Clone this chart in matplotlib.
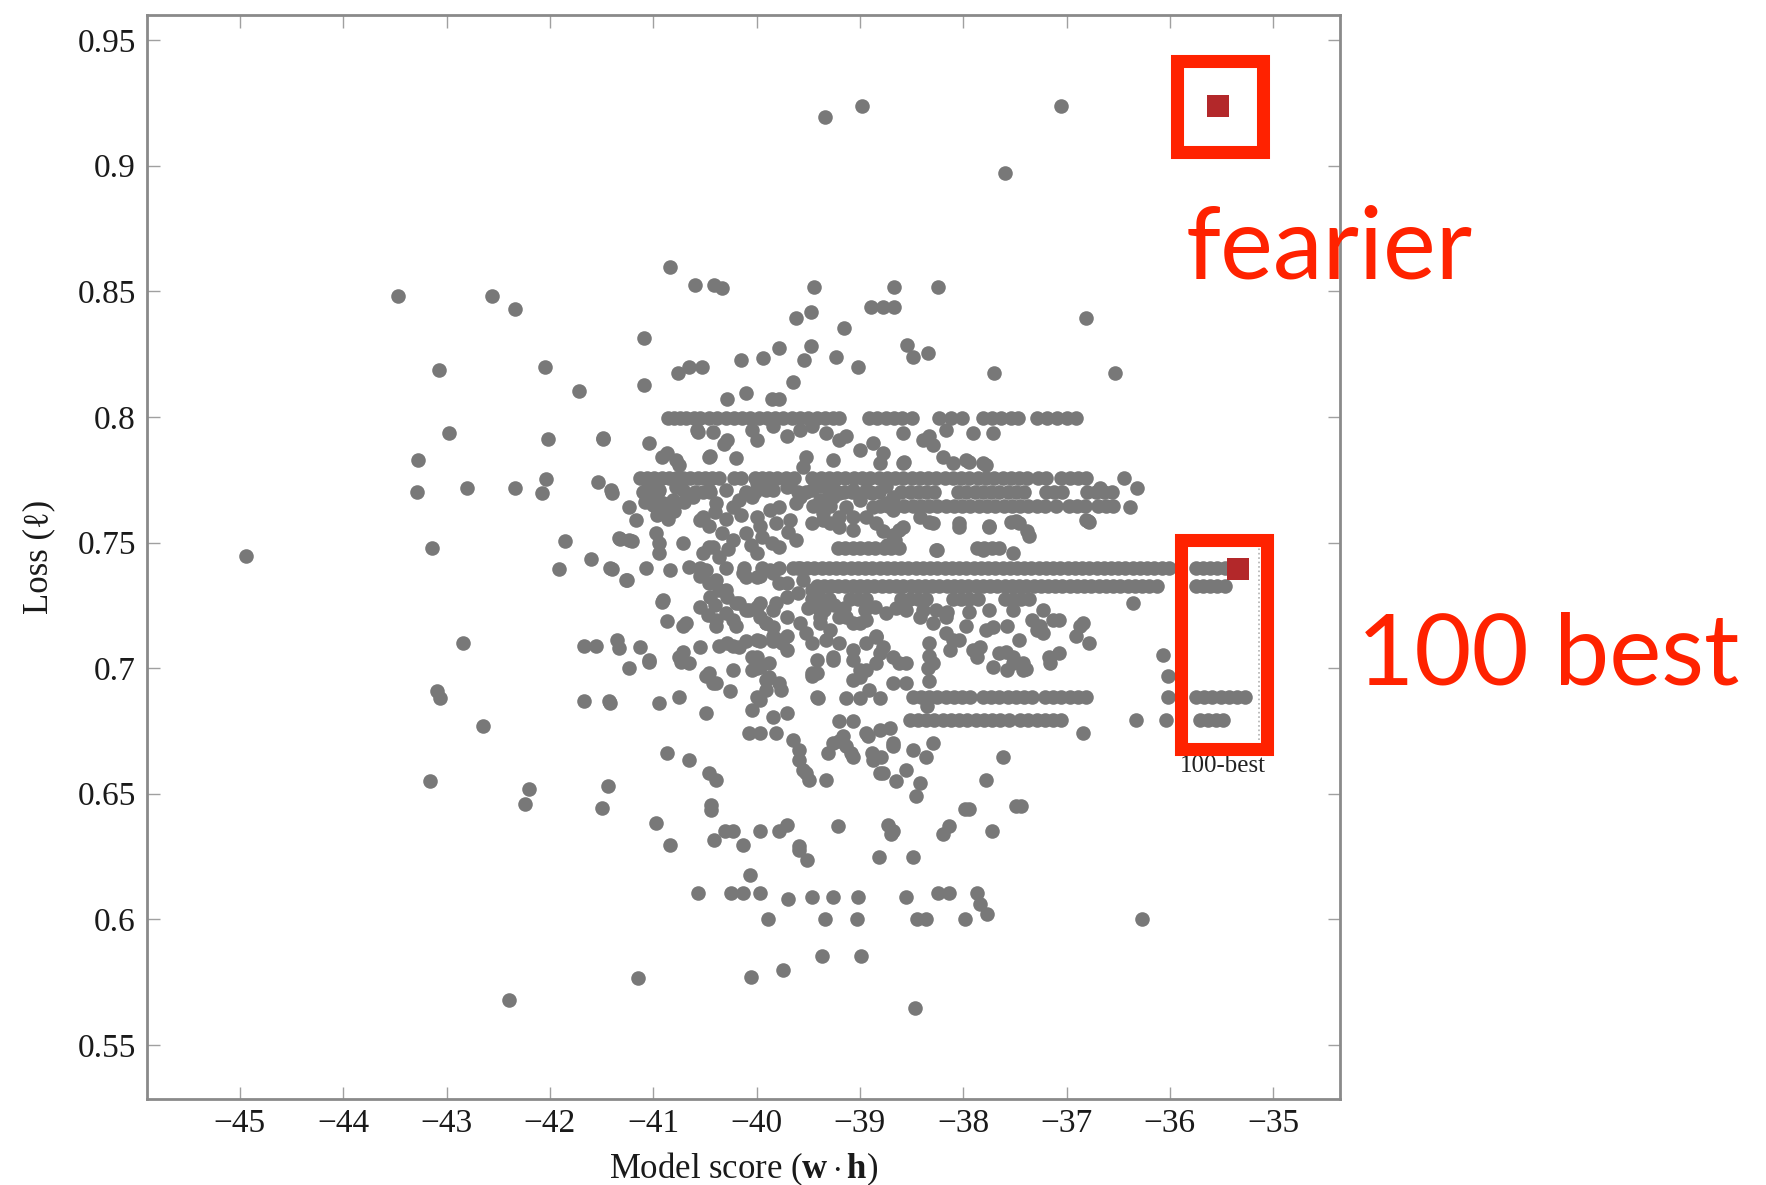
import matplotlib
matplotlib.use("Agg")
import matplotlib.pyplot as plt
from matplotlib.patches import Rectangle

plt.rcParams['font.family'] = ['Liberation Serif', 'DejaVu Serif']
plt.rcParams['mathtext.fontset'] = 'custom'
plt.rcParams['mathtext.rm'] = 'Liberation Serif'
plt.rcParams['mathtext.bf'] = 'Liberation Serif:bold'
plt.rcParams['mathtext.it'] = 'Liberation Serif:italic'

# ---------------- data ----------------
x_ticks = [-45, -44, -43, -42, -41, -40, -39, -38, -37, -36, -35]
x_tick_labels = ['\u221245', '\u221244', '\u221243', '\u221242', '\u221241', '\u221240',
                 '\u221239', '\u221238', '\u221237', '\u221236', '\u221235']
y_ticks = [0.55, 0.6, 0.65, 0.7, 0.75, 0.8, 0.85, 0.9, 0.95]
y_tick_labels = ['0.55', '0.6', '0.65', '0.7', '0.75', '0.8', '0.85', '0.9', '0.95']

# hypotheses sharing the same loss value (horizontal streaks): model scores
row_080 = [-40.86, -40.80, -40.74, -40.68, -40.61, -40.55, -40.46, -40.38, -40.30, -40.22,
           -40.14, -40.06, -39.98, -39.90, -39.82, -39.74, -39.66, -39.58, -39.50, -39.42,
           -39.34, -39.26, -39.20, -38.91, -38.83, -38.75, -38.67, -38.59, -38.50, -38.23,
           -38.12, -38.01, -37.81, -37.72, -37.63, -37.54, -37.47, -37.29, -37.19, -37.09,
           -37.00, -36.91]
row_0775 = [-41.13, -41.06, -40.99, -40.92, -40.85, -40.78, -40.71, -40.64, -40.57, -40.50,
            -40.43, -40.36, -40.22, -40.15, -40.02, -39.95, -39.88, -39.80, -39.72, -39.64,
            -39.46, -39.38, -39.30, -39.22, -39.14, -39.06, -38.98, -38.90, -38.82, -38.74,
            -38.66, -38.58, -38.50, -38.42, -38.34, -38.26, -38.18, -38.10, -38.02, -37.94,
            -37.86, -37.78, -37.70, -37.62, -37.54, -37.46, -37.38, -37.28, -37.20, -37.05,
            -36.97, -36.89, -36.81]
row_077 = [-41.10, -41.02, -40.95, -40.60, -40.52, -40.45, -40.10, -40.02, -39.60, -39.52,
           -39.30, -39.22, -39.15, -39.08, -38.90, -38.82, -38.60, -38.52, -38.44, -38.36,
           -38.28, -38.05, -37.97, -37.89, -37.81, -37.73, -37.65, -37.57, -37.49, -37.41,
           -37.20, -37.12, -37.04, -36.80, -36.72, -36.64, -36.56]
row_0765 = [-39.45, -39.37, -39.29, -38.81, -38.73, -38.65, -38.57, -38.49, -38.41, -38.33,
            -38.25, -38.17, -38.09, -38.01, -37.93, -37.85, -37.77, -37.69, -37.61, -37.53,
            -37.45, -37.37, -37.29, -37.21, -37.10, -36.98, -36.90, -36.82, -36.70, -36.62,
            -36.55]
row_0748 = [-39.21, -39.14, -39.07, -39.00, -38.92, -38.85, -38.77, -38.70, -38.62, -37.87,
            -37.80, -37.72, -37.65]
row_074 = [-40.55, -40.30, -40.12, -39.95, -39.78, -39.65, -39.58, -39.51, -39.44, -39.37,
           -39.30, -39.23, -39.16, -39.09, -39.02, -38.95, -38.88, -38.81, -38.74, -38.67,
           -38.60, -38.53, -38.46, -38.39, -38.32, -38.25, -38.18, -38.11, -38.04, -37.97,
           -37.90, -37.83, -37.76, -37.69, -37.62, -37.55, -37.48, -37.41, -37.34, -37.27,
           -37.20, -37.13, -37.06, -36.99, -36.92, -36.85, -36.78, -36.71, -36.64, -36.57,
           -36.50, -36.43, -36.36, -36.29, -36.22, -36.15, -36.08, -36.01, -35.75, -35.68,
           -35.61, -35.54, -35.47]
row_0733 = [-39.42, -39.35, -39.28, -39.21, -39.14, -39.07, -39.00, -38.93, -38.86, -38.79,
            -38.72, -38.65, -38.58, -38.51, -38.44, -38.37, -38.30, -38.23, -38.16, -38.09,
            -38.02, -37.95, -37.88, -37.81, -37.74, -37.67, -37.60, -37.53, -37.46, -37.39,
            -37.32, -37.25, -37.18, -37.11, -37.04, -36.97, -36.90, -36.83, -36.76, -36.69,
            -36.62, -36.55, -36.48, -36.41, -36.34, -36.27, -36.20, -36.12, -35.75, -35.68,
            -35.61, -35.54, -35.47]
row_0728 = [-39.46, -39.38, -39.30, -39.10, -39.02, -38.94, -38.60, -38.52, -38.44, -38.36,
            -38.10, -38.02, -37.94, -37.86, -37.60, -37.52, -37.44, -37.36]
row_0689 = [-38.49, -38.41, -38.33, -38.25, -38.17, -38.09, -38.01, -37.93, -37.81, -37.73,
            -37.65, -37.57, -37.49, -37.41, -37.33, -37.21, -37.13, -37.05, -36.97, -36.89,
            -36.81, -36.02, -35.75, -35.67, -35.59, -35.51, -35.43, -35.35, -35.27]
row_068 = [-38.52, -38.44, -38.36, -38.28, -38.20, -38.12, -38.04, -37.96, -37.88, -37.80,
           -37.72, -37.64, -37.56, -37.45, -37.37, -37.29, -37.21, -37.13, -37.05, -36.33,
           -36.04, -35.71, -35.63, -35.55, -35.49]
row_scores = [row_080, row_0775, row_077, row_0765, row_0748, row_074, row_0733, row_0728,
              row_0689, row_068]
row_losses = [0.7995, 0.7755, 0.7700, 0.7645, 0.7478, 0.7400, 0.7325, 0.7275, 0.6887, 0.6795]

# other hypotheses: (model score, loss)
pts_outer = [(-44.94, 0.7445), (-43.47, 0.848), (-43.28, 0.783), (-43.29, 0.770), (-43.14, 0.7478),
             (-43.07, 0.8185), (-42.98, 0.7935), (-42.80, 0.7715), (-42.84, 0.710), (-43.09, 0.691),
             (-43.06, 0.688), (-43.16, 0.655), (-42.65, 0.677), (-42.56, 0.848), (-42.34, 0.843),
             (-42.34, 0.7715), (-42.05, 0.8197), (-42.02, 0.7913), (-42.04, 0.7753), (-42.08, 0.7699),
             (-42.20, 0.652), (-42.24, 0.646), (-42.40, 0.568), (-41.85, 0.7504), (-41.91, 0.7393),
             (-41.72, 0.8103), (-41.60, 0.7433), (-41.49, 0.7913), (-41.53, 0.7740), (-41.40, 0.7699),
             (-41.40, 0.7395), (-41.32, 0.7515), (-41.21, 0.7504), (-41.25, 0.7352), (-41.67, 0.709),
             (-41.55, 0.709), (-41.35, 0.7113), (-41.33, 0.708), (-41.67, 0.6868), (-41.43, 0.6868),
             (-41.44, 0.6529), (-41.50, 0.6442), (-41.15, 0.5768)]
pts_top = [(-39.34, 0.9195), (-38.98, 0.9239), (-37.05, 0.9239), (-37.60, 0.8970), (-40.84, 0.8598),
           (-40.60, 0.8525), (-40.41, 0.8525), (-40.33, 0.8512), (-39.44, 0.8516), (-38.67, 0.8516),
           (-38.24, 0.8516), (-38.89, 0.8439), (-38.78, 0.8439), (-38.67, 0.8439), (-39.47, 0.8419),
           (-39.62, 0.8393), (-39.15, 0.8353), (-36.81, 0.8393), (-41.09, 0.8316), (-41.09, 0.8127),
           (-39.47, 0.8284), (-39.78, 0.8273), (-39.94, 0.8236), (-40.15, 0.8227), (-40.76, 0.8174),
           (-40.65, 0.8200), (-40.53, 0.8200), (-39.54, 0.8227), (-39.23, 0.8237), (-39.02, 0.8198),
           (-38.54, 0.8286), (-38.49, 0.8240), (-38.34, 0.8253), (-37.70, 0.8174), (-36.53, 0.8174),
           (-39.65, 0.8140), (-40.10, 0.8094), (-40.29, 0.8070), (-39.85, 0.8070), (-39.78, 0.8070)]
pts_upper = [(-41.49, 0.7915), (-41.04, 0.7895), (-40.87, 0.7856), (-40.78, 0.7829), (-40.46, 0.7842),
             (-40.20, 0.7836), (-40.57, 0.7938), (-40.42, 0.7938), (-40.32, 0.7893), (-40.45, 0.7844),
             (-40.92, 0.7839), (-40.75, 0.7809), (-40.58, 0.7949), (-40.29, 0.7909), (-40.04, 0.7949),
             (-40.00, 0.7909), (-39.84, 0.7962), (-39.71, 0.7922), (-39.58, 0.7949), (-39.46, 0.7962),
             (-39.33, 0.7935), (-39.20, 0.7909), (-39.13, 0.7922), (-39.00, 0.7869), (-38.87, 0.7895),
             (-38.78, 0.7856), (-38.81, 0.7816), (-39.52, 0.7842), (-39.55, 0.7802), (-39.26, 0.7829),
             (-38.58, 0.7816), (-38.33, 0.7922), (-38.17, 0.7949), (-37.91, 0.7935), (-37.71, 0.7935),
             (-38.20, 0.7842), (-37.97, 0.7829), (-37.81, 0.7816), (-38.58, 0.7934), (-38.39, 0.7908),
             (-38.29, 0.7888), (-38.57, 0.7822), (-38.10, 0.7815), (-37.94, 0.7822), (-37.78, 0.7808)]
pts_mid = [(-41.41, 0.7710), (-41.23, 0.7643), (-41.17, 0.7590), (-41.33, 0.7517), (-41.23, 0.7511),
           (-40.97, 0.7537), (-40.94, 0.7497), (-40.94, 0.7458), (-40.71, 0.7497), (-40.55, 0.7590),
           (-40.46, 0.7564), (-40.33, 0.7537), (-40.23, 0.7511), (-40.42, 0.7484), (-40.52, 0.7458),
           (-40.39, 0.7657), (-40.23, 0.7643), (-40.10, 0.7696), (-40.00, 0.7736), (-39.84, 0.7710),
           (-39.68, 0.7723), (-39.78, 0.7643), (-40.00, 0.7603), (-39.87, 0.7630), (-39.58, 0.7683),
           (-40.10, 0.7537), (-39.97, 0.7564), (-39.81, 0.7577), (-39.68, 0.7590), (-39.78, 0.7484),
           (-40.00, 0.7458), (-40.94, 0.7709), (-40.78, 0.7722), (-40.71, 0.7709), (-41.00, 0.7649),
           (-40.91, 0.7656), (-40.81, 0.7669), (-40.52, 0.7603), (-39.46, 0.7576), (-39.36, 0.7589),
           (-39.20, 0.7563), (-39.07, 0.7550), (-39.46, 0.7709), (-39.26, 0.7682), (-39.07, 0.7709),
           (-38.88, 0.7696), (-38.75, 0.7656), (-40.46, 0.7709), (-40.30, 0.7709), (-40.17, 0.7669),
           (-40.04, 0.7682), (-39.91, 0.7709), (-39.71, 0.7722), (-39.62, 0.7656), (-39.39, 0.7723),
           (-39.26, 0.7736), (-39.39, 0.7670), (-39.36, 0.7617), (-39.29, 0.7577), (-39.20, 0.7603),
           (-39.07, 0.7603), (-38.94, 0.7603), (-38.84, 0.7577), (-38.78, 0.7544), (-38.68, 0.7531),
           (-38.62, 0.7550), (-38.68, 0.7630), (-38.68, 0.7683), (-38.75, 0.7723), (-39.00, 0.7670),
           (-39.13, 0.7643), (-38.87, 0.7643), (-39.20, 0.7696), (-38.94, 0.7710), (-38.42, 0.7603),
           (-38.29, 0.7577), (-38.04, 0.7577), (-37.75, 0.7564), (-37.46, 0.7577), (-37.36, 0.7524),
           (-38.26, 0.7471), (-37.52, 0.7458), (-36.81, 0.7590), (-37.54, 0.7583), (-36.78, 0.7583),
           (-36.68, 0.7716), (-36.44, 0.7755), (-36.32, 0.7716), (-36.39, 0.7643), (-38.33, 0.7583),
           (-38.04, 0.7563), (-37.75, 0.7563), (-38.25, 0.7470), (-37.81, 0.7470), (-38.58, 0.7563),
           (-38.66, 0.7510), (-38.74, 0.7490), (-37.38, 0.7544), (-36.79, 0.7584), (-37.49, 0.7584),
           (-41.05, 0.7720), (-40.98, 0.7680), (-40.90, 0.7625), (-40.86, 0.7595), (-40.80, 0.7625),
           (-40.70, 0.7660), (-40.62, 0.7680), (-40.96, 0.7610), (-41.08, 0.7660), (-40.40, 0.7620),
           (-40.30, 0.7595), (-40.15, 0.7610), (-39.95, 0.7520), (-39.85, 0.7500), (-39.70, 0.7540),
           (-39.62, 0.7510), (-40.05, 0.7490), (-40.28, 0.7475), (-40.46, 0.7483), (-40.36, 0.7444)]
pts_low = [(-41.42, 0.7398), (-41.26, 0.7351), (-41.07, 0.7398), (-40.84, 0.7391), (-40.65, 0.7404),
           (-40.55, 0.7365), (-40.46, 0.7338), (-40.36, 0.7312), (-40.29, 0.7285), (-40.20, 0.7258),
           (-40.10, 0.7232), (-39.97, 0.7365), (-39.87, 0.7391), (-39.78, 0.7338), (-39.71, 0.7285),
           (-39.97, 0.7258), (-39.84, 0.7232), (-39.91, 0.7179), (-39.84, 0.7126), (-39.75, 0.7099),
           (-40.91, 0.7272), (-40.87, 0.7186), (-40.71, 0.7166), (-40.39, 0.7166), (-40.20, 0.7166),
           (-40.29, 0.7099), (-40.17, 0.7086), (-40.00, 0.7113), (-39.71, 0.7126), (-40.55, 0.7086),
           (-41.13, 0.7086), (-40.75, 0.7046), (-40.65, 0.7020), (-41.23, 0.7000), (-41.04, 0.7026),
           (-40.49, 0.6967), (-40.42, 0.6940), (-40.04, 0.6993), (-39.91, 0.6953), (-40.23, 0.6993),
           (-40.10, 0.7364), (-40.92, 0.7264), (-40.55, 0.7244), (-40.68, 0.7178), (-40.39, 0.7191),
           (-40.23, 0.7191), (-40.00, 0.7244), (-39.81, 0.7258), (-39.71, 0.7205), (-39.91, 0.7178),
           (-39.42, 0.7258), (-39.39, 0.7205), (-39.29, 0.7152), (-39.20, 0.7099), (-39.07, 0.7073),
           (-38.94, 0.7099), (-38.84, 0.7126), (-39.13, 0.7205), (-39.00, 0.7179), (-38.81, 0.7060),
           (-38.68, 0.7046), (-38.55, 0.7020), (-39.46, 0.7099), (-39.42, 0.7033), (-39.00, 0.6993),
           (-38.84, 0.7020), (-39.07, 0.6953), (-39.26, 0.7033), (-39.42, 0.6980), (-39.46, 0.6967),
           (-38.55, 0.7232), (-38.42, 0.7205), (-38.29, 0.7179), (-38.17, 0.7205), (-38.17, 0.7139),
           (-37.97, 0.7166), (-37.78, 0.7152), (-37.58, 0.7166), (-38.04, 0.7113), (-37.84, 0.7086),
           (-37.65, 0.7060), (-37.46, 0.7113), (-37.39, 0.6996), (-37.26, 0.7166), (-37.13, 0.7192),
           (-36.87, 0.7166), (-36.78, 0.7099), (-38.13, 0.7073), (-38.29, 0.7020), (-37.87, 0.7046),
           (-37.71, 0.7006), (-37.58, 0.6993), (-37.42, 0.7020), (-37.16, 0.7020), (-37.07, 0.7060),
           (-36.36, 0.7258), (-37.23, 0.7231), (-37.07, 0.7191), (-36.84, 0.7178), (-38.39, 0.7231),
           (-38.16, 0.7225), (-37.94, 0.7225), (-37.75, 0.7231), (-37.52, 0.7231), (-36.07, 0.7053),
           (-36.02, 0.6967), (-37.29, 0.7152), (-36.91, 0.7126), (-37.17, 0.7046), (-37.59, 0.7066),
           (-37.52, 0.7020), (-38.33, 0.7100), (-38.33, 0.7050), (-38.34, 0.7000), (-38.33, 0.6950),
           (-38.35, 0.6850), (-41.04, 0.7033), (-40.71, 0.7066), (-40.73, 0.7026), (-40.26, 0.6907),
           (-40.36, 0.7090), (-40.23, 0.7090), (-40.10, 0.7106), (-39.97, 0.7106), (-39.84, 0.7106),
           (-40.00, 0.7046), (-39.88, 0.7020), (-40.00, 0.7000), (-39.89, 0.6960), (-39.76, 0.6914),
           (-40.49, 0.7391), (-40.39, 0.7351), (-40.30, 0.7311), (-40.17, 0.7258), (-40.07, 0.7231),
           (-39.97, 0.7205), (-39.84, 0.7165), (-39.78, 0.7112), (-39.71, 0.7072), (-40.13, 0.7377),
           (-40.00, 0.7364), (-39.84, 0.7377), (-39.71, 0.7337), (-39.46, 0.7311), (-39.42, 0.7245),
           (-39.39, 0.7178), (-39.33, 0.7112), (-39.26, 0.7046), (-39.20, 0.7205), (-39.07, 0.7178),
           (-38.94, 0.7192), (-38.84, 0.7125), (-38.78, 0.7085), (-38.62, 0.7019), (-39.07, 0.7032),
           (-38.94, 0.6992), (-39.00, 0.6966), (-38.26, 0.7231), (-38.10, 0.7112), (-37.71, 0.7165),
           (-37.91, 0.7072), (-37.52, 0.7045), (-37.42, 0.6992), (-37.33, 0.7192), (-37.23, 0.7138),
           (-40.46, 0.6979), (-40.39, 0.6939), (-40.04, 0.7045), (-39.97, 0.7006), (-39.88, 0.6966),
           (-39.46, 0.6979), (-39.42, 0.6886), (-40.45, 0.7285), (-40.40, 0.7250), (-40.30, 0.7220),
           (-40.47, 0.7210), (-39.50, 0.7240), (-39.35, 0.7230), (-39.25, 0.7250), (-39.15, 0.7240),
           (-38.95, 0.7230), (-38.85, 0.7245), (-38.75, 0.7220), (-38.65, 0.7240), (-39.60, 0.7300),
           (-39.55, 0.7350), (-39.60, 0.7400), (-39.58, 0.7180), (-39.52, 0.7140)]
pts_lower = [(-41.42, 0.6860), (-40.94, 0.6860), (-40.75, 0.6887), (-40.49, 0.6820), (-40.00, 0.6887),
             (-39.91, 0.6913), (-39.78, 0.6940), (-39.84, 0.6807), (-39.71, 0.6820), (-40.07, 0.6741),
             (-39.97, 0.6741), (-39.81, 0.6741), (-39.65, 0.6714), (-39.59, 0.6675), (-39.59, 0.6635),
             (-40.87, 0.6661), (-40.65, 0.6635), (-40.46, 0.6582), (-40.39, 0.6555), (-39.52, 0.6582),
             (-39.33, 0.6555), (-40.04, 0.6834), (-39.97, 0.6874), (-39.41, 0.6880), (-39.13, 0.6880),
             (-39.00, 0.6880), (-38.91, 0.6914), (-38.81, 0.6880), (-39.20, 0.6788), (-39.07, 0.6788),
             (-38.92, 0.6728), (-38.71, 0.6761), (-39.20, 0.6708), (-39.13, 0.6688), (-39.09, 0.6661),
             (-39.31, 0.6661), (-38.88, 0.6661), (-38.80, 0.6648), (-38.68, 0.6688), (-38.81, 0.6582),
             (-38.65, 0.6549), (-40.44, 0.6456), (-40.44, 0.6436), (-40.97, 0.6383), (-40.41, 0.6316),
             (-40.31, 0.6350), (-40.23, 0.6350), (-39.97, 0.6350), (-39.78, 0.6350), (-39.71, 0.6376),
             (-39.21, 0.6372), (-38.73, 0.6376), (-38.68, 0.6350), (-40.84, 0.6296), (-40.13, 0.6296),
             (-39.59, 0.6290), (-37.62, 0.6648), (-36.84, 0.6741), (-37.78, 0.6555), (-38.42, 0.6542),
             (-38.46, 0.6489), (-38.29, 0.6701), (-38.36, 0.6648), (-38.68, 0.6701), (-38.49, 0.6675),
             (-38.55, 0.6595), (-38.87, 0.6635), (-38.78, 0.6582), (-39.26, 0.6701), (-39.07, 0.6648),
             (-39.55, 0.6595), (-39.49, 0.6555), (-39.16, 0.6728), (-38.94, 0.6741), (-38.81, 0.6754),
             (-38.68, 0.6940), (-38.55, 0.6940), (-37.49, 0.6450), (-37.44, 0.6450)]
pts_bottom = [(-38.47, 0.5646), (-39.37, 0.5856), (-38.99, 0.5856), (-40.05, 0.5770), (-39.74, 0.5800),
              (-36.27, 0.6003), (-40.57, 0.6105), (-40.25, 0.6105), (-40.13, 0.6105), (-39.97, 0.6105),
              (-40.06, 0.6177), (-39.89, 0.6003), (-39.70, 0.6080), (-39.46, 0.6090), (-39.26, 0.6090),
              (-39.34, 0.6003), (-39.02, 0.6090), (-39.03, 0.6003), (-38.55, 0.6090), (-38.45, 0.6003),
              (-38.36, 0.6003), (-38.24, 0.6105), (-38.14, 0.6105), (-37.98, 0.6003), (-37.87, 0.6105),
              (-37.84, 0.6060), (-37.77, 0.6020), (-37.72, 0.6350), (-39.59, 0.6277), (-39.51, 0.6237),
              (-38.82, 0.6250), (-38.70, 0.6340), (-38.49, 0.6250), (-38.20, 0.6340), (-38.14, 0.6370),
              (-37.98, 0.6440), (-37.94, 0.6440)]
point_groups = [pts_outer, pts_top, pts_upper, pts_mid, pts_low, pts_lower, pts_bottom]

# the two highlighted hypotheses
red_scores = [-35.53, -35.34]
red_losses = [0.9238, 0.7396]

# ---------------- assemble ----------------
xs, ys = [], []
for scores, loss in zip(row_scores, row_losses):
    xs.extend(scores)
    ys.extend([loss] * len(scores))
for grp in point_groups:
    for sx, sy in grp:
        xs.append(sx)
        ys.append(sy)

# ---------------- plot ----------------
fig = plt.figure(figsize=(17.66, 11.85), dpi=100)
ax = fig.add_axes([0.0832, 0.0726, 0.6758, 0.9148])

ax.scatter(xs, ys, s=110, c='#787878', linewidths=0, zorder=2)
ax.scatter(red_scores, red_losses, marker='s', s=240, c='#b3282a', linewidths=0, zorder=4)

ax.set_xlim(-45.9, -34.35)
ax.set_ylim(0.5285, 0.96)
ax.set_xticks(x_ticks)
ax.set_xticklabels(x_tick_labels)
ax.set_yticks(y_ticks)
ax.set_yticklabels(y_tick_labels)
ax.tick_params(direction='in', length=9, width=1.0, color='#a0a0a0',
               top=True, right=True, labelsize=24, labelcolor='#1a1a1a')
ax.tick_params(axis='y', pad=8)
ax.tick_params(axis='x', pad=7)
for sp in ax.spines.values():
    sp.set_color('#8a8a8a')
    sp.set_linewidth(2.0)

ax.set_xlabel(r'Model score ($\mathbf{w}\cdot\mathbf{h}$)', fontsize=25, color='#1a1a1a')
ax.set_ylabel('Loss (\u2113)', fontsize=25, color='#1a1a1a')
ax.xaxis.set_label_coords(0.5, -0.0646)
ax.xaxis.label.set_va('center')
ax.yaxis.set_label_coords(-0.0905, 0.5)
ax.yaxis.label.set_va('center')

# dotted boundary of the 100-best region
ax.plot([-35.14, -35.14], [0.6715, 0.7483], linestyle=':', color='#b0b0b0', linewidth=1.2, zorder=1)
ax.text(-35.49, 0.6611, '100-best', fontsize=18, ha='center', va='center', color='#222222')

# red annotation boxes
red = '#ff2200'
ax.add_patch(Rectangle((-35.93, 0.9053), 0.83, 0.0362, fill=False, ec=red, lw=9.4,
                       clip_on=False, zorder=5))
ax.add_patch(Rectangle((-35.89, 0.6680), 0.83, 0.0828, fill=False, ec=red, lw=9.4,
                       clip_on=False, zorder=5))
ax.text(-35.85, 0.8549, 'fearier', fontsize=72, color=red, family='Lato',
        ha='left', va='baseline', clip_on=False)
ax.text(-34.19, 0.6933, '100 best', fontsize=71, color=red, family='Lato',
        ha='left', va='baseline', clip_on=False)

fig.savefig('out.png', dpi=100)
